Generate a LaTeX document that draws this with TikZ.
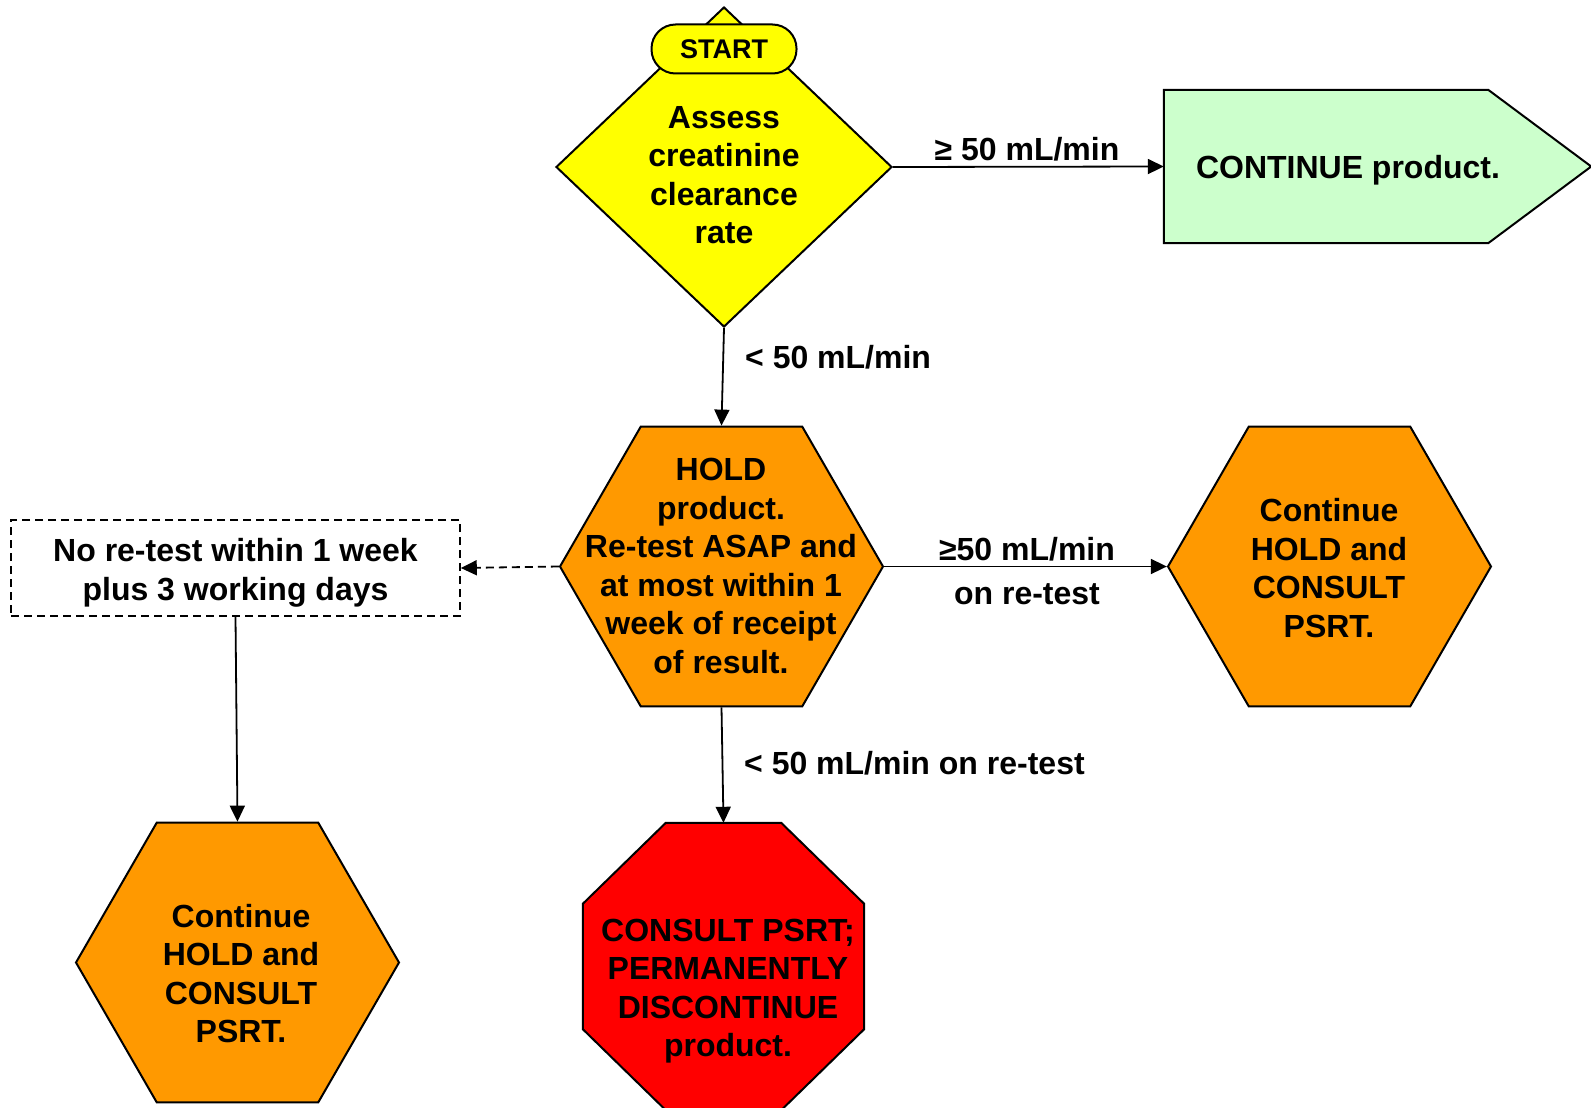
\documentclass[tikz,border=0pt]{standalone}
\usepackage{fontspec}
\setmainfont{Liberation Sans}
\usetikzlibrary{shapes.geometric,arrows.meta}

\definecolor{startyellow}{HTML}{FFFF00}
\definecolor{contgreen}{HTML}{CCFFCC}
\definecolor{holdorange}{HTML}{FF9900}
\definecolor{stopred}{HTML}{FF0000}

\begin{document}
\begin{tikzpicture}[x=1pt,y=-1pt,
  every node/.style={font=\fontsize{32}{38.5}\selectfont\bfseries, inner sep=0pt, align=center},
  outline/.style={draw=black, line width=2pt, line join=miter},
  hexbox/.style={outline, regular polygon, regular polygon sides=6, minimum size=323pt, fill=holdorange},
  flow/.style={line width=1.8pt, -{Triangle[length=16pt,width=15pt]}},
  dashflow/.style={flow, dash pattern=on 8pt off 5pt}
]
\useasboundingbox (0,0) rectangle (1591,1108);

% decision diamond with the start terminal on its tip
\node[outline, diamond, fill=startyellow, minimum width=336pt, minimum height=320pt] (assess) at (724,167) {};
\node (assess-t) at (724,175) {Assess\\creatinine\\clearance\\rate};
\node[outline, fill=startyellow, rounded corners=24pt, minimum width=145pt, minimum height=49pt,
      font=\fontsize{27}{31}\selectfont\bfseries] (start) at (724,49) {START};

% continue: pentagon arrow shape
\node[minimum width=427pt, minimum height=153pt] (cont) at (1377.5,166.5) {};
\draw[outline, fill=contgreen] (cont.north west) -- ([xshift=-103pt]cont.north east) -- (cont.east)
  -- ([xshift=-103pt]cont.south east) -- (cont.south west) -- cycle;
\node (cont-t) at (1348,170) {CONTINUE product.};

% hold step
\node[hexbox] (hold) at (721.5,566.5) {};
\node (hold-t) at (721,566) {HOLD\\product.\\Re-test ASAP and\\at most within 1\\week of receipt\\of result.};

% good re-test
\node[hexbox] (again) at (1329.5,566.5) {};
\node (again-t) at (1329,568) {Continue\\HOLD and\\CONSULT\\PSRT.};

% no re-test in time
\node[draw=black, line width=1.6pt, dash pattern=on 8pt off 5pt, minimum width=449pt, minimum height=96pt]
  (late) at (235.5,568) {};
\node (late-t) at (235.5,573) {No re-test within 1 week\\plus 3 working days};
\node[hexbox] (late-hold) at (237.5,962.5) {};
\node (late-hold-t) at (241,973.5) {Continue\\HOLD and\\CONSULT\\PSRT.};

% stop sign
\node[minimum width=281pt, minimum height=287pt] (stop) at (723.5,966.5) {};
\draw[outline, fill=stopred] ([xshift=83pt]stop.north west) -- ([xshift=-83pt]stop.north east)
  -- ([yshift=-81pt]stop.north east) -- ([yshift=81pt]stop.south east)
  -- ([xshift=-83pt]stop.south east) -- ([xshift=83pt]stop.south west)
  -- ([yshift=81pt]stop.south west) -- ([yshift=-81pt]stop.north west) -- cycle;
\node (stop-t) at (728,991) {CONSULT PSRT;\\PERMANENTLY\\DISCONTINUE\\product.};

% connectors
\draw[flow] (assess.east) -- (cont.west);
\draw[flow] (assess.south) -- (hold.north);
\draw[flow] (hold.east) -- (again.west);
\draw[dashflow] (hold.west) -- (late.east);
\draw[flow] (late.south) -- (late-hold.north);
\draw[flow] (hold.south) -- (stop.north);

% connector labels
\node (l-high) at (1027,149) {≥ 50 mL/min};
\node[anchor=west] (l-low) at (745,357) {< 50 mL/min};
\node (l-retest-high) at (1027,549) {≥50 mL/min};
\node (l-retest-high2) at (1027,594) {on re-test};
\node[anchor=west] (l-retest-low) at (744,763) {< 50 mL/min on re-test};
\end{tikzpicture}
\end{document}
